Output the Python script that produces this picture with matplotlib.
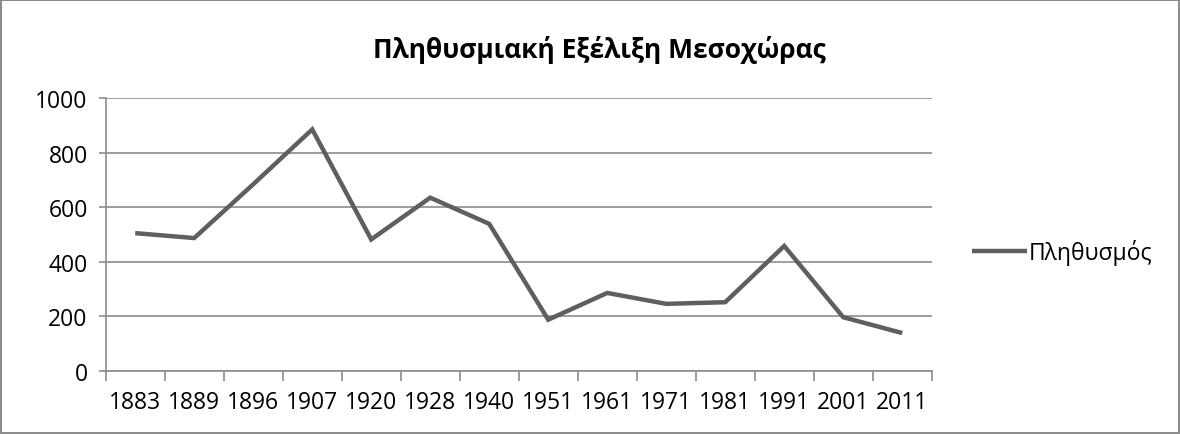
import numpy as np
import matplotlib
matplotlib.use("Agg")
import matplotlib.pyplot as plt

plt.rcParams['font.family'] = ['Open Sans', 'Noto Sans', 'DejaVu Sans']

years = ["1883", "1889", "1896", "1907", "1920", "1928", "1940",
         "1951", "1961", "1971", "1981", "1991", "2001", "2011"]
population = [505, 487, 684, 885, 482, 635, 539, 188, 286, 246, 252, 458, 197, 139]

title = "Πληθυσμιακή Εξέλιξη Μεσοχώρας"
series_name = "Πληθυσμός"

fig = plt.figure(figsize=(11.8, 4.35), dpi=100)
fig.patch.set_edgecolor("#8c8c8c")
fig.patch.set_linewidth(1.5)
ax = fig.add_axes([0.0896, 0.1448, 0.700, 0.6276])

x = np.arange(len(years))
line, = ax.plot(x, population, color="#5f5f5f", lw=3.2, solid_joinstyle="miter",
                solid_capstyle="butt", label=series_name)

ax.set_xlim(-0.5, len(years) - 0.5)
ax.set_ylim(0, 1000)
ax.set_yticks(range(0, 1001, 200))
ax.yaxis.grid(True, color="#8c8c8c", lw=1.2)
ax.set_axisbelow(True)

ax.set_xticks(x)
ax.set_xticklabels(years)
ax.set_xticks(np.arange(-0.5, len(years)), minor=True)
ax.tick_params(axis="x", which="major", length=0, pad=14, labelsize=16.5)
ax.tick_params(axis="x", which="minor", length=7, color="#8c8c8c", width=1.2)
ax.tick_params(axis="y", length=5, color="#8c8c8c", width=1.2, pad=8, labelsize=16.5)

for s in ["top", "right"]:
    ax.spines[s].set_visible(False)
for s in ["left", "bottom"]:
    ax.spines[s].set_color("#8c8c8c")
    ax.spines[s].set_linewidth(1.2)

fig.text(0.508, 0.885, title, ha="center", va="center", fontsize=19, fontweight="bold")

fig.legend(handles=[line], loc="center left", bbox_to_anchor=(0.806, 0.418),
           frameon=False, fontsize=16.5, handlelength=2.4, handletextpad=0.1)

fig.savefig("out.png", dpi=100)
